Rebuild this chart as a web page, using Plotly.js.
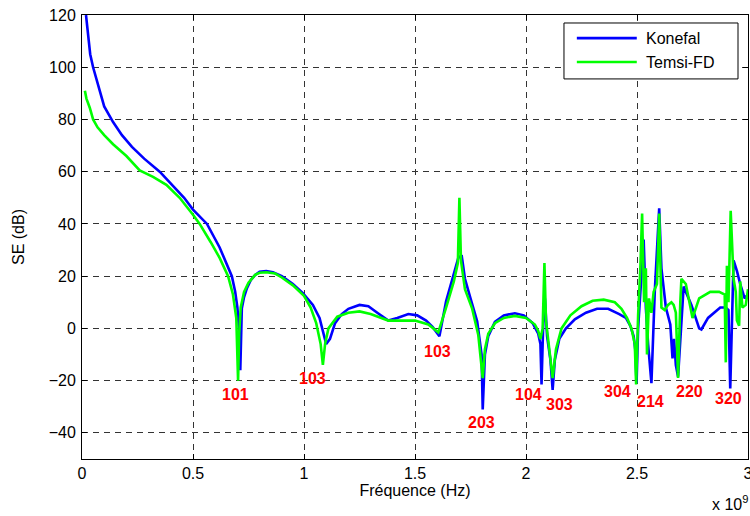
<!DOCTYPE html>
<html>
<head>
<meta charset="utf-8">
<script src="https://cdn.plot.ly/plotly-3.0.1.min.js"></script>
<style>html,body{margin:0;padding:0;background:#fff;}#chart{width:750px;height:516px;}</style>
</head>
<body>
<div id="chart"></div>
<script>
// Frequencies in units of 1e9 Hz (axis shows "x 10^9")
const konefalFreq = [0.018,0.027,0.037,0.05,0.075,0.1,0.14,0.18,0.225,0.28,0.35,0.405,0.46,0.5,0.563,0.62,0.675,0.69,0.70,0.707,0.713,0.72,0.73,0.743,0.76,0.78,0.8,0.83,0.86,0.9,0.95,0.995,1.04,1.07,1.085,1.10,1.117,1.14,1.17,1.2,1.25,1.29,1.33,1.38,1.42,1.47,1.51,1.55,1.58,1.61,1.64,1.67,1.695,1.71,1.725,1.75,1.78,1.80,1.805,1.815,1.83,1.86,1.9,1.95,1.99,2.03,2.055,2.065,2.07,2.077,2.085,2.095,2.11,2.12,2.13,2.15,2.18,2.22,2.27,2.32,2.37,2.42,2.45,2.47,2.485,2.492,2.498,2.505,2.515,2.53,2.54,2.55,2.565,2.58,2.6,2.61,2.63,2.65,2.66,2.667,2.675,2.685,2.71,2.745,2.78,2.79,2.82,2.875,2.9,2.912,2.92,2.935,2.95,2.965,2.985,3.0];
const konefalSE   = [120,112,105,100,92,85,79,74,69.5,65,60,55,50,45.5,40,31,20,14,8,0,-16,7.7,12,15.4,18.5,20.5,21.7,22,21.5,20,17,13.5,9,4,-1,-6,-4,2,5.5,7.5,9,8.5,6,3,4,5.5,5,3,0.5,-3,10.4,19,27,28,19,11.5,2.7,-10,-31,-10,-3,2.5,5,5.8,5,2,-2,-6,-21.5,0,11.5,-3,-12,-23.5,-12,-4,0,3.5,6,7.5,7.5,5.5,4,1,-3,-8,-21,0,15,34,7.7,-6,-21,14,46,23,8,1.5,-11.5,-4,-14,-18.5,16,9,0,-0.4,4,8,8,7,-23,26,22,17,11.5,13];

const temsiFreq = [0.013,0.02,0.035,0.05,0.07,0.1,0.14,0.2,0.26,0.32,0.38,0.44,0.5,0.53,0.58,0.62,0.658,0.68,0.695,0.703,0.708,0.715,0.73,0.75,0.78,0.8,0.83,0.87,0.9,0.95,1.0,1.03,1.055,1.075,1.085,1.095,1.11,1.15,1.2,1.25,1.3,1.38,1.45,1.5,1.56,1.605,1.64,1.675,1.693,1.70,1.707,1.725,1.757,1.785,1.805,1.815,1.83,1.86,1.9,1.95,2.0,2.04,2.055,2.065,2.075,2.083,2.09,2.1,2.12,2.135,2.16,2.2,2.25,2.3,2.35,2.4,2.43,2.455,2.475,2.49,2.496,2.505,2.515,2.523,2.532,2.54,2.545,2.554,2.565,2.575,2.59,2.6,2.61,2.625,2.64,2.655,2.665,2.675,2.685,2.695,2.70,2.72,2.75,2.78,2.83,2.87,2.895,2.9,2.905,2.912,2.922,2.935,2.945,2.95,2.96,2.965,2.975,2.99,3.0];
const temsiSE   = [91,88,84.5,80,77,74,70.5,66,60.5,58,55,50,43.5,40,33,27,20,13,4,-20,-2,8,14,17.5,20.5,21.3,21.5,21,19.5,16.5,12.5,8,2,-6,-14,-6,0,4.5,6,6.5,5.5,3,3,3,1.5,-1.5,8,18,25,50,26,15,7.7,-2.5,-19,-8,-2,2,4,4.8,4,1.5,-1,-4,0,25,3,-4,-19,-8,0,5,8.5,10.6,11,10,7.5,4,0,-6,-21.5,5,23,44,10,23,-10,11.5,6,14,17,44,8,7,9,10,9,6,-19,10,19,17,4,11.5,14,14,13,-13,24,10,45,19,14,3,1,18,8,9,15];

const xTickVals = [0,0.5,1,1.5,2,2.5,3];
const xTickText = ['0','0.5','1','1.5','2','2.5','3'];
const yTickVals = [-40,-20,0,20,40,60,80,100,120];

const modeText = ['101','103','103','203','104','303','304','214','220','320'];
const modeX    = [0.69,1.04,1.60,1.80,2.01,2.15,2.41,2.56,2.735,2.91];
const modeY    = [-25.4,-19,-9,-36,-25.4,-29,-24,-28,-24,-27];

const seriesNames  = ['Konefal', 'Temsi-FD'];
const seriesColors = ['#0000ff', '#00ff00'];

const FONT = 'Liberation Sans, Arial, Helvetica, sans-serif';

const traces = [
  {x: konefalFreq, y: konefalSE, type: 'scatter', mode: 'lines', name: seriesNames[0],
   line: {color: seriesColors[0], width: 2.6}},
  {x: temsiFreq, y: temsiSE, type: 'scatter', mode: 'lines', name: seriesNames[1],
   line: {color: seriesColors[1], width: 2.6}}
];

const annotations = modeText.map((t, i) => ({
  x: modeX[i], y: modeY[i], xref: 'x', yref: 'y', text: '<b>' + t + '</b>',
  showarrow: false, font: {family: FONT, size: 16, color: '#ff0000'}
}));
annotations.push({
  x: 1, y: 0, xref: 'paper', yref: 'paper', xanchor: 'right', yanchor: 'top',
  yshift: -32, xshift: 2, text: 'x 10<sup>9</sup>', showarrow: false,
  font: {family: FONT, size: 16, color: '#000'}
});

// MATLAB-style legend box (long line samples)
const legBox = {x0: 0.7237, x1: 0.985, y0: 0.856, y1: 0.982};
const legRows = [0.948, 0.894];
const shapes = [{type: 'rect', xref: 'paper', yref: 'paper',
  x0: legBox.x0, x1: legBox.x1, y0: legBox.y0, y1: legBox.y1,
  line: {color: '#000', width: 1}, fillcolor: '#fff', layer: 'above'}];
seriesNames.forEach((n, i) => {
  shapes.push({type: 'line', xref: 'paper', yref: 'paper', x0: 0.743, x1: 0.833,
    y0: legRows[i], y1: legRows[i], line: {color: seriesColors[i], width: 2.6}, layer: 'above'});
  annotations.push({xref: 'paper', yref: 'paper', x: 0.8435, y: legRows[i],
    xanchor: 'left', yanchor: 'middle', text: n, showarrow: false,
    font: {family: FONT, size: 16, color: '#000'}});
});

const axisCommon = {
  showline: true, linecolor: '#000', linewidth: 1, mirror: 'allticks',
  ticks: 'inside', ticklen: 5, tickcolor: '#000', tickwidth: 1,
  showgrid: true, gridcolor: '#333', griddash: '6px,5px', gridwidth: 1,
  zeroline: false, tickfont: {family: FONT, size: 16, color: '#000'}
};

const layout = {
  width: 750, height: 516,
  margin: {l: 82, r: 2, t: 15, b: 57},
  paper_bgcolor: '#fff', plot_bgcolor: '#fff',
  showlegend: false,
  xaxis: Object.assign({}, axisCommon, {
    range: [0, 3], tickmode: 'array', tickvals: xTickVals, ticktext: xTickText,
    ticklabeloverflow: 'allow',
    title: {text: 'Fréquence (Hz)', font: {family: FONT, size: 16, color: '#000'}, standoff: 2}
  }),
  yaxis: Object.assign({}, axisCommon, {
    range: [-50, 120], tickmode: 'array', tickvals: yTickVals,
    ticklabelstandoff: 2,
    title: {text: 'SE (dB)', font: {family: FONT, size: 16, color: '#000'}, standoff: 20}
  }),
  shapes: shapes,
  annotations: annotations
};

Plotly.newPlot('chart', traces, layout, {staticPlot: true, displayModeBar: false});
</script>
</body>
</html>
